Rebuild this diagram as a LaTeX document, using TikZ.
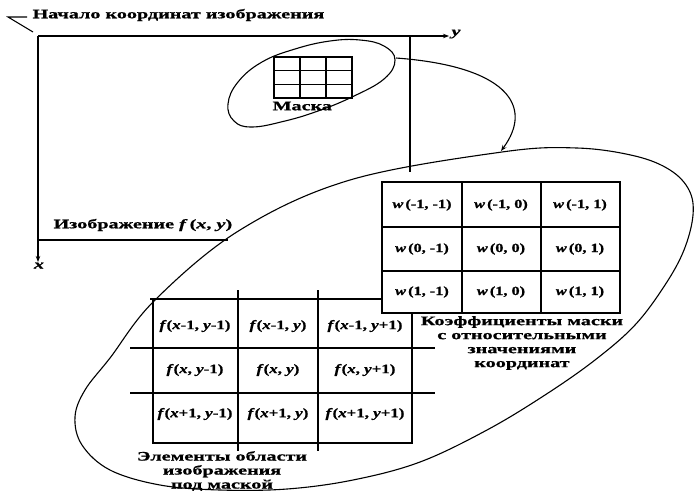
\documentclass[tikz,border=0pt]{standalone}
\usepackage{fontspec}
\setmainfont{Liberation Serif}[FakeStretch=1.55, FakeBold=1]
\newfontfamily\cellfont{Liberation Serif}[FakeStretch=1.3, FakeBold=1]
\usetikzlibrary{arrows.meta}

\tikzset{
    lbl/.style={font=\bfseries\fontsize{13}{14}\selectfont, inner sep=0pt},
    wcell/.style={font=\cellfont\bfseries\fontsize{12.5}{14}\selectfont, inner sep=0pt},
    fcell/.style={font=\cellfont\bfseries\fontsize{13}{14}\selectfont, inner sep=0pt},
    ax/.style={-{Stealth[length=6pt,width=4.5pt]}},
}
\newcommand{\iv}[1]{\textit{#1}}

\begin{document}
\begin{tikzpicture}[x=1pt, y=-1pt, line width=1.1pt]
        \useasboundingbox (0,0) rectangle (695,491);

        % image frame
        \coordinate (O) at (38,36);
        \coordinate (Y) at (449,36);
        \coordinate (X) at (38,262);
        \coordinate (BL) at (38,240);
        \coordinate (BR) at (228,240);
        \coordinate (TR) at (410,36);
        \coordinate (RB) at (410,172);

        \draw[ax] (O) -- (Y);
        \draw[ax] (O) -- (X);
        \draw (BL) -- (BR);
        \draw (TR) -- (RB);
        \node[lbl, anchor=west] (ylab) at (451,34) {\iv{y}};
        \node[lbl, anchor=north] (xlab) at (39,262) {\iv{x}};

        % origin label
        \node[lbl, anchor=west] (orig) at (32,15) {Начало координат изображения};
        \draw (27,17) -- (8,17) -- (33,32);
        \node[lbl, anchor=west] (img) at (53,225) {Изображение \iv{f}\,(\iv{x}, \iv{y})};

        % small ellipse with mask
        \draw plot[smooth cycle, tension=0.7] coordinates {(395,60) (384,46) (360,40) (330,41) (295,49) (262,62) (238,82) (228,104) (234,121) (252,127) (285,121) (318,111) (352,97) (384,79)};
        \draw (274,57) rectangle (352,98);
        \draw (300,57) -- (300,98);
        \draw (326,57) -- (326,98);
        \draw (274,70.7) -- (352,70.7);
        \draw (274,84.3) -- (352,84.3);
        \node[lbl, anchor=west] (mask) at (272,106) {Маска};

        % big ellipse
        \draw plot[smooth cycle, tension=0.6] coordinates {(240,230) (350,180) (502,152) (577,148) (635,156) (670,170) (689,190) (693,215) (684,250) (665,285) (635,325) (595,360) (545,395) (487,430) (420,462) (353,480) (287,489) (220,490) (160,485) (110,470) (82,445) (75,417) (85,390) (110,358) (155,300)};

        \coordinate (mskR) at (396,58);
        \coordinate (bigT) at (501,151);
        \draw[ax] (mskR) .. controls (505,66) and (535,105) .. (bigT);

        % image elements under the mask
        \draw (150,299) -- (412,299) -- (412,443) -- (153,443) -- (153,299);
        \draw (238,290) -- (238,451);
        \draw (318,290) -- (318,451);
        \draw (130,348) -- (435,348);
        \draw (130,393) -- (435,393);

        \node[fcell] (f11) at (195,326) {\iv{f}(\iv{x}-1, \iv{y}-1)};
        \node[fcell] (f12) at (278,326) {\iv{f}(\iv{x}-1, \iv{y})};
        \node[fcell] (f13) at (365,326) {\iv{f}(\iv{x}-1, \iv{y}+1)};
        \node[fcell] (f21) at (195,370) {\iv{f}(\iv{x}, \iv{y}-1)};
        \node[fcell] (f22) at (278,370) {\iv{f}(\iv{x}, \iv{y})};
        \node[fcell] (f23) at (365,370) {\iv{f}(\iv{x}, \iv{y}+1)};
        \node[fcell] (f31) at (195,414) {\iv{f}(\iv{x}+1, \iv{y}-1)};
        \node[fcell] (f32) at (278,414) {\iv{f}(\iv{x}+1, \iv{y})};
        \node[fcell] (f33) at (365,414) {\iv{f}(\iv{x}+1, \iv{y}+1)};

        % mask coefficients
        \draw[fill=white] (382,182) rectangle (620,313);
        \draw (462,182) -- (462,313);
        \draw (541,182) -- (541,313);
        \draw (382,227) -- (620,227);
        \draw (382,271) -- (620,271);

        \node[wcell] (w11) at (422,205) {\iv{w}\,(-1, -1)};
        \node[wcell] (w12) at (501,205) {\iv{w}\,(-1, 0)};
        \node[wcell] (w13) at (580,205) {\iv{w}\,(-1, 1)};
        \node[wcell] (w21) at (422,249) {\iv{w}\,(0, -1)};
        \node[wcell] (w22) at (501,249) {\iv{w}\,(0, 0)};
        \node[wcell] (w23) at (580,249) {\iv{w}\,(0, 1)};
        \node[wcell] (w31) at (422,292) {\iv{w}\,(1, -1)};
        \node[wcell] (w32) at (501,292) {\iv{w}\,(1, 0)};
        \node[wcell] (w33) at (580,292) {\iv{w}\,(1, 1)};

        \node[lbl, align=center] (wtxt) at (522,343) {Коэффициенты маски\\с относительными\\значениями\\координат};
        \node[lbl, align=center] (ftxt) at (222,471) {Элементы области\\изображения\\под маской};
\end{tikzpicture}
\end{document}
